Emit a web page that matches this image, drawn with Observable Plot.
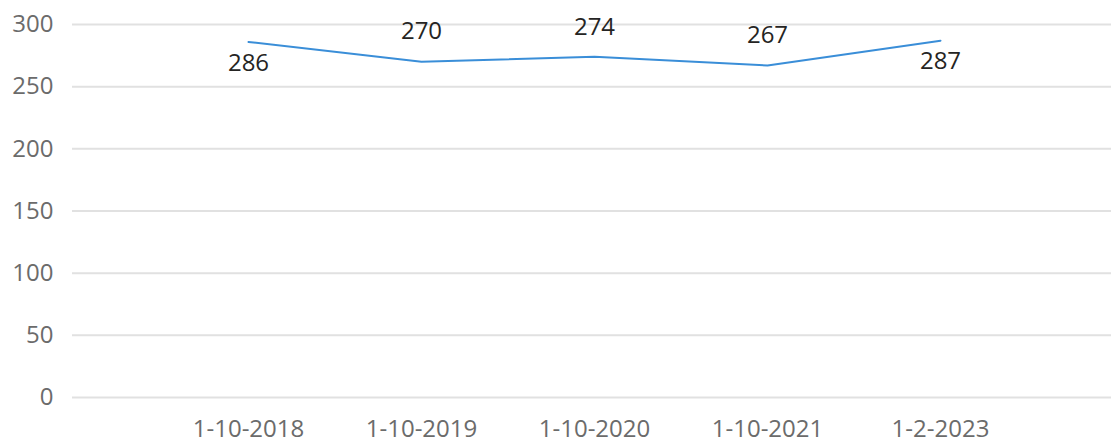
<!DOCTYPE html>
<html>
<head>
<meta charset="utf-8">
<script src="https://cdn.jsdelivr.net/npm/d3@7"></script>
<script src="https://cdn.jsdelivr.net/npm/@observablehq/plot@0.6"></script>
<style>
  html, body { margin: 0; padding: 0; background: #fff; }
  #chart svg { display: block; }
</style>
</head>
<body>
<div id="chart"></div>
<script>
const categories = ["1-10-2018", "1-10-2019", "1-10-2020", "1-10-2021", "1-2-2023"];
const values = [286, 270, 274, 267, 287];
const yTicks = [0, 50, 100, 150, 200, 250, 300];

const data = categories.map((c, i) => ({category: c, value: values[i], i}));
const below = data.filter(d => d.i === 0 || d.i === data.length - 1);
const above = data.filter(d => !(d.i === 0 || d.i === data.length - 1));

const chart = Plot.plot({
  width: 1111,
  height: 443,
  marginLeft: 72,
  marginRight: 0,
  marginTop: 24,
  marginBottom: 46,
  style: {fontFamily: "'Open Sans', sans-serif", fontSize: "24px", background: "#fff"},
  x: {type: "point", domain: categories, range: [247, 941], padding: 0, label: null},
  y: {domain: [0, 300], label: null},
  marks: [
    Plot.gridY(yTicks, {stroke: "#e1e1e1", strokeOpacity: 1, strokeWidth: 2}),
    Plot.axisY(yTicks, {tickSize: 0, tickPadding: 19, fill: "#6b6b6b", fontSize: 24, label: null}),
    Plot.axisX({tickSize: 0, tickPadding: 22, fill: "#6b6b6b", fontSize: 24, label: null}),
    Plot.line(data, {x: "category", y: "value", stroke: "#3a8ed8", strokeWidth: 2}),
    Plot.text(above, {x: "category", y: "value", text: d => String(d.value), dy: -30, fill: "#252423", fontSize: 24}),
    Plot.text(below, {x: "category", y: "value", text: d => String(d.value), dy: 21, fill: "#252423", fontSize: 24})
  ]
});
document.getElementById("chart").appendChild(chart);
</script>
</body>
</html>
